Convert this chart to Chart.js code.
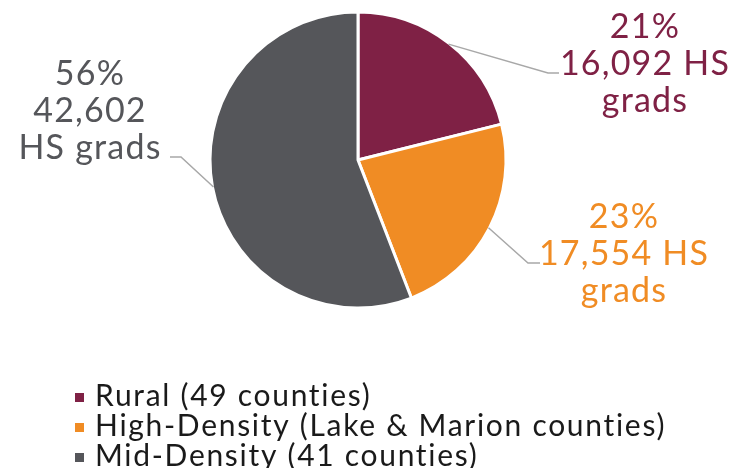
<!DOCTYPE html>
<html>
<head>
<meta charset="utf-8">
<script src="https://cdn.jsdelivr.net/npm/chart.js@4/dist/chart.umd.min.js"></script>
<style>
  html, body { margin: 0; padding: 0; background: #fff; }
</style>
</head>
<body>
<canvas id="pie" width="743" height="468"></canvas>
<script>
// data
const categories = ['Rural (49 counties)', 'High-Density (Lake & Marion counties)', 'Mid-Density (41 counties)'];
const hsGrads = [16092, 17554, 42602];
const shares = [21, 23, 56];
const labelLines = [
  ['21%', '16,092 HS', 'grads'],
  ['23%', '17,554 HS', 'grads'],
  ['56%', '42,602', 'HS grads']
];
const colors = ['#7f2145', '#f08c24', '#55565a'];

// where the callout text sits (layout only)
const callouts = [
  { x: 645, y: 38, elbow: [548, 73], end: 559 },
  { x: 624, y: 228, elbow: [528, 263], end: 540 },
  { x: 90, y: 85, elbow: [181, 157], end: 170 }
];

const FONT = 'Lato, "Open Sans", sans-serif';

const calloutPlugin = {
  id: 'callouts',
  afterDatasetsDraw(chart) {
    const ctx = chart.ctx;
    const arcs = chart.getDatasetMeta(0).data;
    ctx.save();
    arcs.forEach((arc, i) => {
      const p = arc.getProps(['x', 'y', 'startAngle', 'endAngle', 'outerRadius'], true);
      const mid = (p.startAngle + p.endAngle) / 2;
      const sx = p.x + Math.cos(mid) * (p.outerRadius - 1);
      const sy = p.y + Math.sin(mid) * (p.outerRadius - 1);
      const c = callouts[i];
      // leader line
      ctx.strokeStyle = '#a8a8a8';
      ctx.lineWidth = 1.5;
      ctx.beginPath();
      ctx.moveTo(sx, sy);
      ctx.lineTo(c.elbow[0], c.elbow[1]);
      ctx.lineTo(c.end, c.elbow[1]);
      ctx.stroke();
      // text
      ctx.fillStyle = colors[i];
      ctx.font = '34px ' + FONT;
      ctx.textAlign = 'center';
      ctx.textBaseline = 'alphabetic';
      ctx.letterSpacing = '1.2px';
      labelLines[i].forEach((t, k) => ctx.fillText(t, c.x, c.y + k * 37));
    });
    ctx.restore();
  },
  afterDraw(chart) {
    // legend, bottom left (last row runs off the bottom like the original)
    const ctx = chart.ctx;
    ctx.save();
    ctx.font = '30px ' + FONT;
    ctx.textAlign = 'left';
    ctx.textBaseline = 'alphabetic';
    ctx.letterSpacing = '1.7px';
    categories.forEach((name, i) => {
      const base = 406 + i * 30;
      ctx.fillStyle = colors[i];
      ctx.fillRect(75, base - 13, 9, 9);
      ctx.fillStyle = '#1a1a1a';
      ctx.fillText(name, 95, base);
    });
    ctx.restore();
  }
};

new Chart(document.getElementById('pie'), {
  type: 'pie',
  data: {
    labels: categories,
    datasets: [{
      data: hsGrads,
      backgroundColor: colors,
      borderColor: '#ffffff',
      borderWidth: 3
    }]
  },
  options: {
    responsive: false,
    animation: false,
    radius: 148,
    layout: { padding: { left: 0, right: 27, top: 0, bottom: 148 } },
    plugins: {
      legend: { display: false },
      tooltip: { enabled: false }
    }
  },
  plugins: [calloutPlugin]
});
</script>
</body>
</html>
